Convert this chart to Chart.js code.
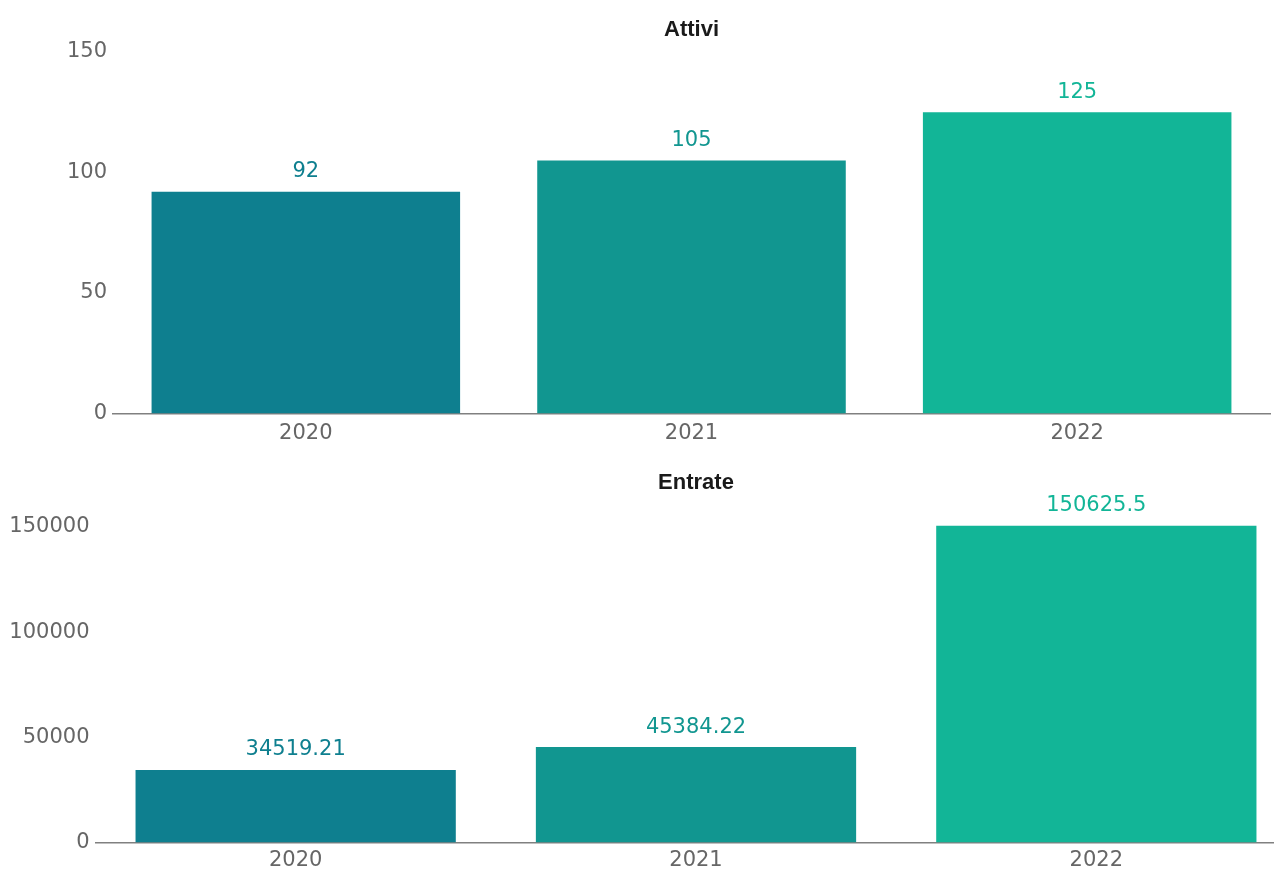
<!DOCTYPE html>
<html>
<head>
<meta charset="utf-8">
<script src="https://cdn.jsdelivr.net/npm/chart.js@4.4.1/dist/chart.umd.min.js"></script>
<style>
  html, body { margin: 0; padding: 0; background: #fff; overflow: hidden; width: 1274px; height: 872px; }
  .box { position: absolute; left: 0; }
  #top { top: 0; }
  #bot { top: 460px; }
</style>
</head>
<body>
<div class="box" id="top"><canvas id="c1" width="1274" height="460" style="width:1274px;height:460px"></canvas></div>
<div class="box" id="bot"><canvas id="c2" width="1300" height="424" style="width:1300px;height:424px"></canvas></div>
<script>
const categories = ['2020', '2021', '2022'];
const attivi = [92, 105, 125];
const entrate = [34519.21, 45384.22, 150625.5];
const attiviTicks = [0, 50, 100, 150];
const entrateTicks = [0, 50000, 100000, 150000];
const barColors = ['#0e7f8f', '#119690', '#12b597'];

const TICK_FONT = { family: 'DejaVu Sans', size: 21, lineHeight: 1 };

const valueLabels = {
  id: 'valueLabels',
  afterDatasetsDraw(chart) {
    const ctx = chart.ctx;
    const ds = chart.data.datasets[0];
    const meta = chart.getDatasetMeta(0);
    ctx.save();
    ctx.font = '21px "DejaVu Sans"';
    ctx.textAlign = 'center';
    ctx.textBaseline = 'middle';
    meta.data.forEach((el, i) => {
      ctx.fillStyle = barColors[i];
      ctx.fillText(String(ds.data[i]), el.x, el.y - 20);
    });
    ctx.restore();
  }
};

function makeChart(id, title, values, ticks, yMax, opts) {
  return new Chart(document.getElementById(id), {
    type: 'bar',
    data: {
      labels: categories,
      datasets: [{
        data: values,
        backgroundColor: barColors,
        borderWidth: 0,
        barPercentage: 0.8,
        categoryPercentage: 1.0
      }]
    },
    plugins: [valueLabels],
    options: {
      responsive: false,
      animation: false,
      layout: { padding: opts.padding },
      plugins: {
        legend: { display: false },
        tooltip: { enabled: false },
        title: {
          display: true,
          fullSize: false,
          text: title,
          color: '#1a1a1a',
          font: { family: 'Liberation Sans', size: 22, weight: 'bold', lineHeight: 1.2 },
          padding: opts.titlePad
        }
      },
      scales: {
        x: {
          grid: { display: false, drawTicks: false },
          border: { display: true, color: '#808080', width: 1.5 },
          ticks: { color: '#666', font: TICK_FONT, padding: opts.xPad, maxRotation: 0 }
        },
        y: {
          min: 0,
          max: yMax,
          grid: { display: false, drawTicks: false },
          border: { display: false },
          ticks: { color: '#666', font: TICK_FONT, padding: 6, callback: v => String(v) },
          afterBuildTicks: s => { s.ticks = ticks.map(v => ({ value: v })); },
          afterFit: s => { s.width = opts.yWidth; }
        }
      }
    }
  });
}

makeChart('c1', 'Attivi', attivi, attiviTicks, 150, {
  padding: { top: 16.8, right: 4, bottom: 5.5, left: 0 },
  titlePad: { top: 0, bottom: 8.8 },
  xPad: 10,
  yWidth: 113
});

makeChart('c2', 'Entrate', entrate, entrateTicks, 160000, {
  padding: { top: 9.8, right: 3.5, bottom: 4.5, left: 0 },
  titlePad: { top: 0, bottom: 9.8 },
  xPad: 8,
  yWidth: 95.5
});
</script>
</body>
</html>
